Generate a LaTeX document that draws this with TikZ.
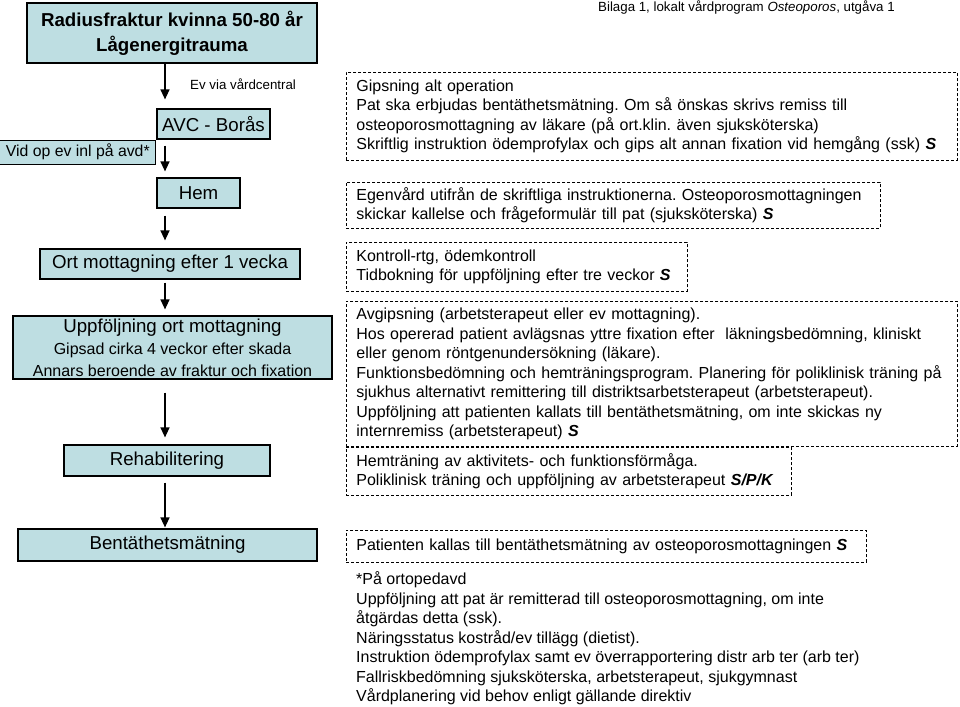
\documentclass[tikz,border=0pt]{standalone}
\usepackage{fontspec}
\setmainfont{Liberation Sans}
\usetikzlibrary{arrows.meta}
\usetikzlibrary{positioning}
\frenchspacing
\definecolor{boxblue}{RGB}{190,222,226}
\newcommand\titlefont{\fontsize{18.7}{25}\selectfont\bfseries}
\newcommand\boxfont{\fontsize{18.7}{22}\selectfont}
\newcommand\midfont{\fontsize{15.8}{19}\selectfont}
\newcommand\notefont{\fontsize{16}{19.5}\selectfont}
\newcommand\hdrfont{\fontsize{13.3}{16}\selectfont}
\newcommand\sign[1]{\textbf{\textit{#1}}}
\tikzset{
    flowbox/.style = {draw, line width=1.2pt, fill=boxblue, align=center,
        inner sep=0pt, font=\boxfont},% rutor i flodet
    notebox/.style = {draw, dash pattern=on 3pt off 2pt, line width=0.8pt,
        align=left, anchor=north west, inner xsep=10pt, inner ysep=0pt,
        font=\notefont},% streckade kommentarer
    flowarrow/.style = {line width=1.3pt, -{Triangle[length=10pt,width=9pt]}},
}

\begin{document}
\begin{tikzpicture}[x=1pt,y=-1pt]
\useasboundingbox (0,0) rectangle (960,706);
\coordinate (spine) at (165,0);
% flodet
\node[flowbox, font=\titlefont, minimum width=290pt, minimum height=60pt] (title) at (172,33)
    {Radiusfraktur kvinna 50-80 år\\Lågenergitrauma};
\node[flowbox, minimum width=113pt, minimum height=30pt] (avc) at (213.5,124) {AVC - Borås};
\node[flowbox, font=\midfont, minimum width=156pt, minimum height=24pt, anchor=north east]
    (avd) at (avc.south west) {Vid op ev inl på avd*};
\node[flowbox, minimum width=83pt, minimum height=30pt] (hem) at (198.5,193) {Hem};
\node[flowbox, minimum width=260pt, minimum height=30pt] (ort) at (170,264)
    {Ort mottagning efter 1 vecka};
\node[flowbox, font=\fontsize{16}{22}\selectfont, minimum width=319pt, minimum height=63pt]
    (uppf) at (172.5,347.5)
    {{\boxfont Uppföljning ort mottagning}\\Gipsad cirka 4 veckor efter skada\\
     Annars beroende av fraktur och fixation};
\node[flowbox, minimum width=206pt, minimum height=31pt] (rehab) at (167,460.5) {Rehabilitering};
\node[flowbox, minimum width=299pt, minimum height=32pt] (bmd) at (167.5,545) {Bentäthetsmätning};
\node[font=\hdrfont, inner sep=0pt, anchor=west] (evvia) at (190,84) {Ev via vårdcentral};

\draw[flowarrow, shorten >=9pt] (title.south -| spine) -- (avc.north -| spine);
\draw[flowarrow, shorten <=6pt, shorten >=6pt] (avc.south -| spine) -- (hem.north -| spine);
\draw[flowarrow, shorten <=7pt, shorten >=8pt] (hem.south -| spine) -- (ort.north -| spine);
\draw[flowarrow, shorten <=3pt, shorten >=6pt] (ort.south -| spine) -- (uppf.north -| spine);
\draw[flowarrow, shorten <=13pt, shorten >=7pt] (uppf.south -| spine) -- (rehab.north -| spine);
\draw[flowarrow, shorten <=6pt, shorten >=1pt] (rehab.south -| spine) -- (bmd.north -| spine);

% kommentarer
\node[font=\hdrfont, inner sep=0pt, anchor=west] (bilaga) at (598,8)
    {Bilaga 1, lokalt vårdprogram \textit{Osteoporos}, utgåva 1};
\node[notebox, text width=591pt, minimum height=88pt] (gips) at (346,72)
    {Gipsning alt operation\\
     Pat ska erbjudas bentäthetsmätning. Om så önskas skrivs remiss till\\
     osteoporosmottagning av läkare (på ort.klin. även sjuksköterska)\\
     Skriftlig instruktion ödemprofylax och gips alt annan fixation vid hemgång (ssk) \sign{S}};
\node[notebox, text width=514pt, minimum height=46pt] (egenvard) at (346,182)
    {Egenvård utifrån de skriftliga instruktionerna. Osteoporosmottagningen\\
     skickar kallelse och frågeformulär till pat (sjuksköterska) \sign{S}};
\node[notebox, text width=321pt, minimum height=49pt] (kontroll) at (346,242)
    {Kontroll-rtg, ödemkontroll\\
     Tidbokning för uppföljning efter tre veckor \sign{S}};
\node[notebox, text width=591pt, minimum height=145pt] (avgips) at (346,301)
    {Avgipsning (arbetsterapeut eller ev mottagning).\\
     Hos opererad patient avlägsnas yttre fixation efter\ \ läkningsbedömning, kliniskt\\
     eller genom röntgenundersökning (läkare).\\
     Funktionsbedömning och hemträningsprogram. Planering för poliklinisk träning på\\
     sjukhus alternativt remittering till distriktsarbetsterapeut (arbetsterapeut).\\
     Uppföljning att patienten kallats till bentäthetsmätning, om inte skickas ny\\
     internremiss (arbetsterapeut) \sign{S}};
\node[notebox, text width=425pt, minimum height=48pt] (hemtr) at (346,447)
    {Hemträning av aktivitets- och funktionsförmåga.\\
     Poliklinisk träning och uppföljning av arbetsterapeut \sign{S/P/K}};
\node[notebox, text width=500pt, minimum height=32pt] (kallas) at (346,530)
    {Patienten kallas till bentäthetsmätning av osteoporosmottagningen \sign{S}};
\node[font=\notefont, align=left, inner sep=0pt, anchor=west] (fotnot) at (356,638.5)
    {*På ortopedavd\\
     Uppföljning att pat är remitterad till osteoporosmottagning, om inte\\
     åtgärdas detta (ssk).\\
     Näringsstatus kostråd/ev tillägg (dietist).\\
     Instruktion ödemprofylax samt ev överrapportering distr arb ter (arb ter)\\
     Fallriskbedömning sjuksköterska, arbetsterapeut, sjukgymnast\\
     Vårdplanering vid behov enligt gällande direktiv};
\end{tikzpicture}
\end{document}
